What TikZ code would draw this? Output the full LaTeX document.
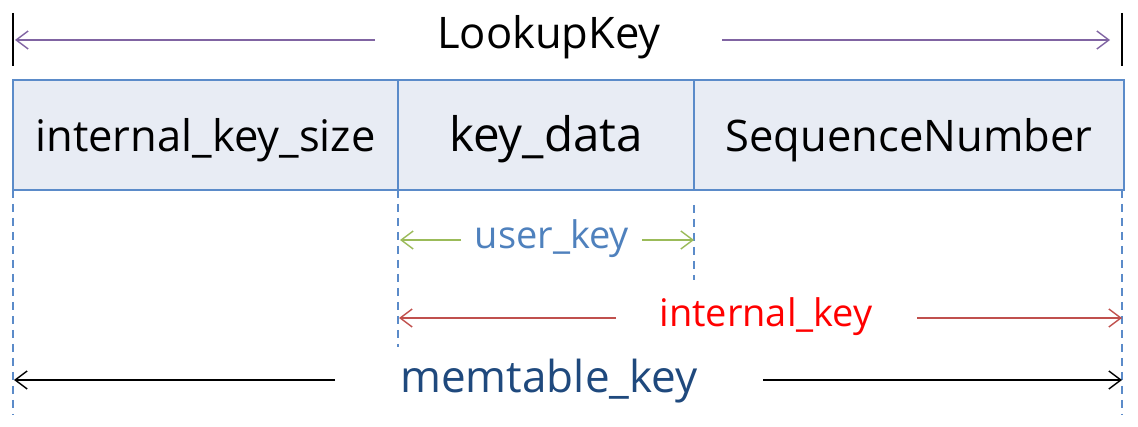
\documentclass[tikz,border=0pt]{standalone}
\usepackage{fontspec}
\setmainfont{Open Sans}
\usetikzlibrary{arrows.meta}
\definecolor{boxfill}{HTML}{E8ECF4}
\definecolor{boxline}{HTML}{5B8BC9}
\definecolor{purp}{HTML}{8064A2}
\definecolor{grn}{HTML}{9BBB59}
\definecolor{redline}{HTML}{C0504D}
\definecolor{ukblue}{HTML}{4F81BD}
\definecolor{mkblue}{HTML}{1F497D}
\begin{document}
\begin{tikzpicture}[x=1pt,y=-1pt,
  cell/.style={draw=boxline,line width=1.8pt,fill=boxfill,minimum height=110pt,inner sep=0pt,text height=40pt,text depth=6pt,font=\fontsize{43.5}{50}\selectfont},
  lbl/.style={inner sep=0pt,font=\fontsize{43.5}{50}\selectfont},
  dim/.style={line width=1.5pt,-{Straight Barb[length=12pt,width=18pt,line width=1.4pt]}},
  guide/.style={draw=boxline,line width=1.6pt,dash pattern=on 8pt off 6pt}]
\useasboundingbox (0,0) rectangle (1138,427);
% boxes
\node[cell,minimum width=385pt] (b1) at (205.5,135) {internal\_key\_size};
\node[cell,minimum width=296pt,font=\fontsize{47.5}{54}\selectfont] (b2) at (546,135) {key\_data};
\node[cell,minimum width=430pt] (b3) at (909,135) {SequenceNumber};
% top ticks
\coordinate (tL1) at (13,13); \coordinate (tL2) at (13,66);
\coordinate (tR1) at (1122,13); \coordinate (tR2) at (1122,66);
\draw[line width=1.8pt] (tL1) -- (tL2);
\draw[line width=1.8pt] (tR1) -- (tR2);
% guides
\coordinate (g1a) at (13,190); \coordinate (g1b) at (13,415);
\coordinate (g2a) at (398,190); \coordinate (g2b) at (398,347);
\coordinate (g3a) at (694,205); \coordinate (g3b) at (694,280);
\coordinate (g4a) at (1122,190); \coordinate (g4b) at (1122,415);
\draw[guide] (g1a) -- (g1b);
\draw[guide] (g2a) -- (g2b);
\draw[guide] (g3a) -- (g3b);
\draw[guide] (g4a) -- (g4b);
% labels
\node[lbl] (lk) at (549,37) {LookupKey};
\node[lbl,text=ukblue,font=\fontsize{38}{44}\selectfont] (uk) at (552,239) {user\_key};
\node[lbl,text=red,font=\fontsize{38}{44}\selectfont] (ik) at (766,317) {internal\_key};
\node[lbl,text=mkblue,font=\fontsize{44}{50}\selectfont] (mk) at (549,381) {memtable\_key};
% arrows
\coordinate (lka) at (375,40); \coordinate (lkae) at (15,40);
\coordinate (lkb) at (722,40); \coordinate (lkbe) at (1110,40);
\draw[dim,purp] (lka) -- (lkae);
\draw[dim,purp] (lkb) -- (lkbe);
\coordinate (uka) at (461,240); \coordinate (ukae) at (400,240);
\coordinate (ukb) at (642,240); \coordinate (ukbe) at (694,240);
\draw[dim,grn] (uka) -- (ukae);
\draw[dim,grn] (ukb) -- (ukbe);
\coordinate (ika) at (616,318); \coordinate (ikae) at (399,318);
\coordinate (ikb) at (917,318); \coordinate (ikbe) at (1122,318);
\draw[dim,redline] (ika) -- (ikae);
\draw[dim,redline] (ikb) -- (ikbe);
\coordinate (mka) at (335,380); \coordinate (mkae) at (14,380);
\coordinate (mkb) at (763,380); \coordinate (mkbe) at (1122,380);
\draw[dim,black,line width=2pt] (mka) -- (mkae);
\draw[dim,black,line width=2pt] (mkb) -- (mkbe);
\end{tikzpicture}
\end{document}
